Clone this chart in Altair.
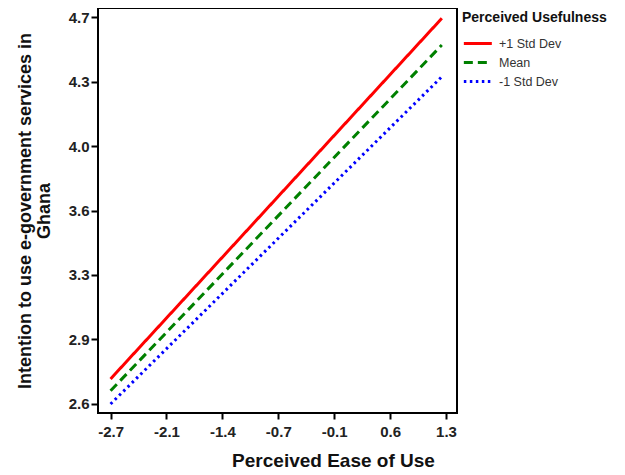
import altair as alt
import pandas as pd

groups = ["+1 Std Dev", "Mean", "-1 Std Dev"]
x_start = [-2.7, -2.7, -2.7]
x_end = [1.25, 1.25, 1.25]
y_start = [2.736, 2.672, 2.600]
y_end = [4.693, 4.548, 4.376]
colors = ["#ff0000", "#008000", "#0000ff"]
dashes = [[1, 0], [9, 5], [2.5, 3.5]]
x_ticks = [-2.7, -2.0333, -1.3667, -0.7, -0.0333, 0.6333, 1.3]
y_ticks = [2.6, 2.95, 3.3, 3.65, 4.0, 4.35, 4.7]

rows = []
for g, xs, xe, ys, ye in zip(groups, x_start, x_end, y_start, y_end):
    rows.append({"group": g, "x": xs, "y": ys})
    rows.append({"group": g, "x": xe, "y": ye})
df = pd.DataFrame(rows)

lab = "replace(format(floor(datum.value*10+0.001)/10, '.1f'), '\u2212', '-')"

chart = alt.Chart(df).mark_line(strokeWidth=3, strokeCap="butt").encode(
    x=alt.X("x:Q", scale=alt.Scale(domain=[-2.85, 1.431], nice=False, zero=False),
            axis=alt.Axis(values=x_ticks, labelExpr=lab, title="Perceived Ease of Use",
                          domain=False, grid=False, tickSize=6, tickWidth=2, tickColor="black",
                          labelPadding=5, labelFont="Liberation Sans", labelFontWeight="bold",
                          labelFontSize=15, labelColor="#222",
                          titleFont="Liberation Sans", titleFontSize=19, titleFontWeight="bold",
                          titleColor="#111", titlePadding=12, titleX=235, titleAlign="center")),
    y=alt.Y("y:Q", scale=alt.Scale(domain=[2.551, 4.749], nice=False, zero=False),
            axis=alt.Axis(values=y_ticks, labelExpr=lab,
                          title=["Intention to use e-government services in", "Ghana"],
                          domain=False, grid=False, tickSize=7, tickWidth=2, tickColor="black",
                          labelPadding=2, labelFont="Liberation Sans", labelFontWeight="bold",
                          labelFontSize=15, labelColor="#222",
                          titleFont="Liberation Sans", titleFontSize=18, titleFontWeight="bold",
                          titleColor="#111", titlePadding=15, titleLineHeight=19)),
    color=alt.Color("group:N", scale=alt.Scale(domain=groups, range=colors),
                    legend=alt.Legend(title="Perceived Usefulness", orient="none",
                                      legendX=364, legendY=3, symbolType="M-1,0H5",
                                      symbolSize=87, symbolStrokeWidth=3,
                                      labelOffset=24,
                                      titleFont="Liberation Sans", titleFontSize=14,
                                      titleFontWeight="bold", titleColor="#111",
                                      labelFont="Liberation Sans", labelFontSize=12.5,
                                      labelColor="#333", rowPadding=6, titlePadding=12)),
    strokeDash=alt.StrokeDash("group:N", scale=alt.Scale(domain=groups, range=dashes), legend=None),
).properties(
    width=359, height=405, autosize="none",
    padding={"left": 90, "top": 0, "right": 160, "bottom": 62},
).configure_view(stroke="black", strokeWidth=2)

chart.save("out.html", embed_options={"renderer": "svg", "actions": False})
